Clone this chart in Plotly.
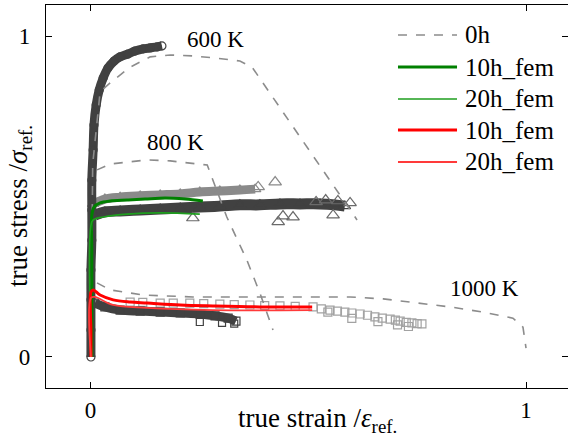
import plotly.graph_objects as go

# ---------------- data ----------------
# 0h dashed reference curves
x_0h_600 = [0.001, 0.005, 0.022, 0.045, 0.091, 0.137, 0.183, 0.235, 0.290, 0.343, 0.371, 0.612]
y_0h_600 = [0.000, 0.600, 0.826, 0.854, 0.903, 0.935, 0.941, 0.938, 0.931, 0.922, 0.903, 0.427]
x_0h_800 = [0.015, 0.045, 0.084, 0.130, 0.183, 0.235, 0.268, 0.313, 0.359, 0.389, 0.419]
y_0h_800 = [0.583, 0.601, 0.607, 0.614, 0.611, 0.604, 0.598, 0.436, 0.302, 0.199, 0.084]
x_0h_1000 = [0.015, 0.045, 0.121, 0.235, 0.389, 0.596, 0.672, 0.750, 0.826, 0.901, 0.970, 0.993, 1.000]
y_0h_1000 = [0.231, 0.209, 0.193, 0.187, 0.187, 0.187, 0.181, 0.168, 0.156, 0.140, 0.121, 0.093, 0.028]

# experimental markers
x_exp600 = [0.001, 0.001, 0.001, 0.001, 0.003, 0.003, 0.003, 0.006, 0.008, 0.013, 0.020, 0.029,
            0.040, 0.054, 0.068, 0.086, 0.102, 0.121, 0.137, 0.153, 0.164]
y_exp600 = [0.000, 0.084, 0.178, 0.271, 0.364, 0.458, 0.551, 0.645, 0.723, 0.785, 0.832, 0.869,
            0.900, 0.922, 0.935, 0.944, 0.953, 0.960, 0.963, 0.966, 0.969]

x_exp800a = [0.006, 0.033, 0.068, 0.114, 0.160, 0.206, 0.251, 0.297, 0.343, 0.378]
y_exp800a = [0.477, 0.492, 0.498, 0.502, 0.505, 0.508, 0.514, 0.517, 0.520, 0.523]
x_exp800a_out = [0.385, 0.424]
y_exp800a_out = [0.530, 0.545]

x_exp800b = [0.010, 0.033, 0.068, 0.114, 0.160, 0.206, 0.251, 0.297, 0.343, 0.389, 0.435,
             0.481, 0.527, 0.561, 0.584]
y_exp800b = [0.442, 0.452, 0.455, 0.458, 0.461, 0.464, 0.467, 0.470, 0.474, 0.474, 0.477,
             0.477, 0.477, 0.474, 0.470]
x_exp800b_out = [0.235, 0.431, 0.442, 0.465, 0.518, 0.540, 0.557, 0.568, 0.596]
y_exp800b_out = [0.433, 0.421, 0.439, 0.436, 0.483, 0.489, 0.442, 0.486, 0.480]

x_exp1000a = [0.010, 0.033, 0.068, 0.114, 0.160, 0.206, 0.251, 0.286, 0.316, 0.334]
y_exp1000a = [0.168, 0.156, 0.146, 0.143, 0.140, 0.137, 0.134, 0.128, 0.121, 0.112]
x_exp1000a_out = [0.251, 0.302, 0.330]
y_exp1000a_out = [0.109, 0.106, 0.104]

x_exp1000b = [0.091, 0.120, 0.160, 0.190, 0.228, 0.260, 0.297, 0.330, 0.366, 0.400, 0.435,
              0.470, 0.511, 0.530, 0.550, 0.567, 0.584, 0.600, 0.619, 0.636, 0.653, 0.670,
              0.688, 0.700, 0.711, 0.725, 0.738, 0.750, 0.761, 0.545, 0.600, 0.660, 0.705, 0.730]
y_exp1000b = [0.171, 0.170, 0.168, 0.168, 0.168, 0.166, 0.165, 0.163, 0.162, 0.160, 0.159,
              0.158, 0.156, 0.150, 0.146, 0.143, 0.140, 0.137, 0.134, 0.130, 0.125, 0.121,
              0.118, 0.115, 0.112, 0.108, 0.106, 0.104, 0.103, 0.140, 0.120, 0.110, 0.100, 0.095]

# FEM curves
x_g10 = [0.003, 0.003, 0.003, 0.003, 0.008, 0.022, 0.045, 0.084, 0.125, 0.171, 0.217, 0.258]
y_g10 = [0.000, 0.178, 0.333, 0.442, 0.467, 0.480, 0.486, 0.489, 0.492, 0.495, 0.492, 0.486]
x_g20 = [0.003, 0.003, 0.010, 0.029, 0.084, 0.160, 0.251]
y_g20 = [0.000, 0.421, 0.430, 0.436, 0.445, 0.449, 0.445]
x_r10 = [0.001, 0.001, 0.001, 0.006, 0.022, 0.052, 0.091, 0.130, 0.206, 0.281, 0.389, 0.509]
y_r10 = [0.000, 0.084, 0.202, 0.209, 0.193, 0.178, 0.171, 0.168, 0.162, 0.159, 0.156, 0.156]
x_r20 = [0.001, 0.001, 0.010, 0.052, 0.130, 0.281, 0.509]
y_r20 = [0.000, 0.184, 0.187, 0.162, 0.153, 0.146, 0.146]

temp_labels = ["600 K", "800 K", "1000 K"]
temp_x = [0.288, 0.196, 0.904]
temp_y = [0.988, 0.667, 0.212]

legend_names = ["0h", "10h_fem", "20h_fem", "10h_fem", "20h_fem"]

x_ticks = [0, 1]
y_ticks = [0, 1]

# ---------------- figure ----------------
FONT = "Liberation Serif, Times New Roman, serif"
DARK = "#414141"
LIGHT = "#8a8a8a"
LIGHTER = "#a2a2a2"
C_DASH = "#8c8c8c"
C_G10, C_G20 = "#008000", "#1e9e1e"
C_R10, C_R20 = "#ff0000", "#ff3a3a"

fig = go.Figure()

def band(x, y, color, symbol, lw, size):
    fig.add_trace(go.Scatter(x=x, y=y, mode="lines+markers", showlegend=False,
                             line=dict(color=color, width=lw, shape="spline"),
                             marker=dict(symbol=symbol, size=size, color=color,
                                         line=dict(color=color, width=1.2)),
                             hoverinfo="skip"))

def pts(x, y, color, symbol, size):
    fig.add_trace(go.Scatter(x=x, y=y, mode="markers", showlegend=False,
                             marker=dict(symbol=symbol, size=size, color=color,
                                         line=dict(color=color, width=1.2)),
                             hoverinfo="skip"))

# experimental scatter
band(x_exp800a, y_exp800a, LIGHT, "triangle-up-open", 9, 10)
pts(x_exp800a_out, y_exp800a_out, LIGHT, "triangle-up-open", 11)
pts(x_exp1000b, y_exp1000b, LIGHTER, "square-open", 8)
band(x_exp800b, y_exp800b, DARK, "triangle-up-open", 11, 10)
pts(x_exp800b_out, y_exp800b_out, "#6a6a6a", "triangle-up-open", 11)
band(x_exp1000a, y_exp1000a, DARK, "square-open", 9, 8)
pts(x_exp1000a_out, y_exp1000a_out, DARK, "square-open", 7)
band(x_exp600, y_exp600, DARK, "circle-open", 9, 8)

# 0h dashed
dash = dict(color=C_DASH, width=1.6, dash="dash")
for xs, ys in [(x_0h_600, y_0h_600), (x_0h_800, y_0h_800), (x_0h_1000, y_0h_1000)]:
    fig.add_trace(go.Scatter(x=xs, y=ys, mode="lines", name=legend_names[0], line=dash,
                             legendgroup="0h", showlegend=False))

# FEM lines
fem = [(x_g10, y_g10, C_G10, 3.0, legend_names[1]),
       (x_g20, y_g20, C_G20, 1.6, legend_names[2]),
       (x_r10, y_r10, C_R10, 3.0, legend_names[3]),
       (x_r20, y_r20, C_R20, 1.8, legend_names[4])]
for xs, ys, c, w, n in fem:
    fig.add_trace(go.Scatter(x=xs, y=ys, mode="lines", name=n, showlegend=False,
                             line=dict(color=c, width=w, shape="spline")))

# right-hand ticks without a frame line
fig.add_trace(go.Scatter(x=[None], y=[None], yaxis="y2", showlegend=False))

for t, xx, yy in zip(temp_labels, temp_x, temp_y):
    fig.add_annotation(x=xx, y=yy, text=t, showarrow=False,
                       font=dict(family=FONT, size=23, color="black"))

# legend (drawn by hand to get the long line samples)
leg_styles = [dict(color=C_DASH, width=1.6, dash="dash"),
              dict(color=C_G10, width=3.0), dict(color=C_G20, width=1.6),
              dict(color=C_R10, width=3.0), dict(color=C_R20, width=1.8)]
leg_rows = [0.9217, 0.8381, 0.7546, 0.6736, 0.5901]
for name, st, yy in zip(legend_names, leg_styles, leg_rows):
    fig.add_shape(type="line", xref="paper", yref="paper", x0=0.6743, x1=0.7874,
                  y0=yy, y1=yy, line=st)
    fig.add_annotation(xref="paper", yref="paper", x=0.7989, y=yy, text=name,
                       showarrow=False, xanchor="left", yanchor="middle",
                       font=dict(family=FONT, size=25, color="black"))

# axis titles
fig.add_annotation(xref="paper", yref="paper", x=0.52, y=-0.035, xanchor="center",
                   yanchor="top", showarrow=False,
                   text="true strain /<i>ε</i><sub>ref.</sub>",
                   font=dict(family=FONT, size=27, color="black"))
fig.add_annotation(xref="paper", yref="paper", x=-0.05, y=0.475, xanchor="center",
                   yanchor="middle", showarrow=False, textangle=-90,
                   text="true stress /<i>σ</i><sub>ref.</sub>",
                   font=dict(family=FONT, size=27, color="black"))

fig.update_layout(
    width=568, height=440,
    margin=dict(l=46, r=0, t=5, b=52),
    paper_bgcolor="white", plot_bgcolor="white",
    font=dict(family=FONT, size=23, color="black"),
    showlegend=False,
    xaxis=dict(range=[-0.1022, 1.0964], tickvals=x_ticks, ticktext=["0", "1"],
               ticks="inside", ticklen=6, tickwidth=1, tickcolor="black",
               showline=True, linecolor="black", linewidth=1.2, mirror="ticks",
               showgrid=False, zeroline=False, ticklabelstandoff=1,
               tickfont=dict(family=FONT, size=23)),
    yaxis=dict(range=[-0.0966, 1.0966], tickvals=y_ticks, ticktext=["0", "1"],
               ticks="inside", ticklen=6, tickwidth=1, tickcolor="black",
               showline=True, linecolor="black", linewidth=1.2, mirror=False,
               showgrid=False, zeroline=False, ticklabelstandoff=10,
               tickfont=dict(family=FONT, size=23)),
    yaxis2=dict(range=[-0.0966, 1.0966], overlaying="y", side="right",
                tickvals=y_ticks, showticklabels=False, ticks="inside", ticklen=6,
                tickcolor="black", showline=False, showgrid=False, zeroline=False),
)

fig.write_html("out.html")
